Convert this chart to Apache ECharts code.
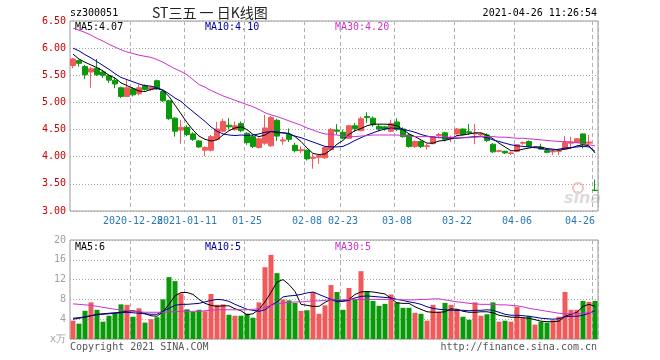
<!DOCTYPE html>
<html><head><meta charset="utf-8">
<script src="https://cdn.jsdelivr.net/npm/echarts@6/dist/echarts.min.js"></script>
<style>html,body{margin:0;padding:0;background:#fff}#c{width:660px;height:360px}</style>
</head><body><div id="c"></div>
<script>
const dates = [
'2020-12-14','2020-12-15','2020-12-16','2020-12-17','2020-12-18','2020-12-21','2020-12-22','2020-12-23','2020-12-24','2020-12-25',
'2020-12-28','2020-12-29','2020-12-30','2020-12-31','2021-01-04','2021-01-05','2021-01-06','2021-01-07','2021-01-08','2021-01-11',
'2021-01-12','2021-01-13','2021-01-14','2021-01-15','2021-01-18','2021-01-19','2021-01-20','2021-01-21','2021-01-22','2021-01-25',
'2021-01-26','2021-01-27','2021-01-28','2021-01-29','2021-02-01','2021-02-02','2021-02-03','2021-02-04','2021-02-05','2021-02-08',
'2021-02-09','2021-02-10','2021-02-18','2021-02-19','2021-02-22','2021-02-23','2021-02-24','2021-02-25','2021-02-26','2021-03-01',
'2021-03-02','2021-03-03','2021-03-04','2021-03-05','2021-03-08','2021-03-09','2021-03-10','2021-03-11','2021-03-12','2021-03-15',
'2021-03-16','2021-03-17','2021-03-18','2021-03-19','2021-03-22','2021-03-23','2021-03-24','2021-03-25','2021-03-26','2021-03-29',
'2021-03-30','2021-03-31','2021-04-01','2021-04-02','2021-04-06','2021-04-07','2021-04-08','2021-04-09','2021-04-12','2021-04-13',
'2021-04-14','2021-04-15','2021-04-16','2021-04-19','2021-04-20','2021-04-21','2021-04-22','2021-04-26'];

const opens = [5.68,5.77,5.66,5.56,5.63,5.56,5.49,5.41,5.27,5.11, 5.25,5.16,5.31,5.24,5.40,5.20,5.03,4.71,4.49,4.54,
4.42,4.29,4.12,4.12,4.32,4.47,4.58,4.50,4.61,4.43, 4.37,4.17,4.25,4.20,4.67,4.29,4.41,4.21,4.11,4.12,
3.97,3.99,3.98,4.13,4.49,4.45,4.34,4.57,4.48,4.74, 4.71,4.56,4.55,4.47,4.64,4.51,4.40,4.19,4.28,4.19,
4.24,4.39,4.44,4.33,4.42,4.51,4.46,4.42,4.40,4.40, 4.23,4.10,4.10,4.06,4.10,4.25,4.28,4.17,4.17,4.11,
4.09,4.10,4.14,4.25,4.26,4.42,4.25,3.38];
const closes = [5.80,5.72,5.51,5.62,5.51,5.50,5.41,5.34,5.11,5.27, 5.14,5.27,5.24,5.28,5.25,5.03,4.70,4.47,4.54,4.41,
4.32,4.18,4.17,4.37,4.51,4.65,4.55,4.57,4.48,4.26, 4.19,4.33,4.53,4.72,4.38,4.31,4.32,4.11,4.13,3.96,
3.99,4.02,4.17,4.50,4.47,4.34,4.57,4.52,4.70,4.72, 4.59,4.51,4.51,4.61,4.50,4.37,4.19,4.28,4.19,4.20,
4.37,4.41,4.32,4.35,4.51,4.41,4.44,4.43,4.42,4.30, 4.09,4.11,4.07,4.07,4.22,4.26,4.19,4.18,4.14,4.08,
4.10,4.11,4.26,4.27,4.33,4.23,4.27,3.38];
const lows = [5.63,5.66,5.43,5.27,5.49,5.45,5.36,5.26,5.08,5.10, 5.11,5.13,5.22,5.21,5.23,5.01,4.68,4.37,4.24,4.38,
4.29,4.16,4.01,4.10,4.30,4.45,4.50,4.48,4.45,4.22, 4.16,4.15,4.22,4.18,4.29,4.22,4.27,4.08,4.07,3.93,
3.78,3.87,3.96,4.12,4.41,4.32,4.33,4.46,4.47,4.62, 4.55,4.47,4.48,4.45,4.47,4.35,4.17,4.16,4.16,4.13,
4.23,4.35,4.28,4.27,4.41,4.39,4.40,4.23,4.38,4.27, 4.07,4.08,4.05,4.03,4.09,4.22,4.18,4.15,4.13,4.07,
4.03,4.03,4.12,4.14,4.25,4.15,4.22,3.38];
const highs = [5.82,5.79,5.69,5.65,5.80,5.60,5.52,5.46,5.29,5.41, 5.28,5.33,5.33,5.30,5.42,5.22,5.05,4.73,4.68,4.58,
4.45,4.31,4.19,4.40,4.64,4.70,4.71,4.65,4.65,4.45, 4.40,4.35,4.77,4.75,4.70,4.36,4.52,4.26,4.19,4.13,
4.05,4.04,4.19,4.53,4.60,4.50,4.58,4.62,4.74,4.82, 4.74,4.60,4.57,4.68,4.71,4.54,4.42,4.30,4.30,4.24,
4.38,4.44,4.46,4.39,4.53,4.52,4.60,4.60,4.44,4.43, 4.25,4.13,4.11,4.10,4.23,4.28,4.30,4.20,4.24,4.12,
4.12,4.14,4.38,4.37,4.34,4.43,4.40,3.58];

const ma5 = [5.89,5.80,5.74,5.69,5.64,5.58,5.50,5.45,5.36,5.31, 5.26,5.21,5.20,5.24,5.26,5.22,5.11,4.95,4.79,4.63,
4.49,4.38,4.32,4.29,4.31,4.40,4.48,4.53,4.55,4.50, 4.41,4.37,4.40,4.47,4.44,4.44,4.43,4.37,4.28,4.16,
4.06,4.04,4.05,4.13,4.23,4.30,4.41,4.48,4.52,4.57, 4.60,4.60,4.60,4.59,4.57,4.50,4.42,4.37,4.31,4.25,
4.25,4.29,4.30,4.33,4.39,4.40,4.42,4.44,4.44,4.40, 4.33,4.25,4.18,4.11,4.11,4.14,4.16,4.18,4.18,4.15,
4.14,4.12,4.14,4.16,4.20,4.22,4.20,4.07];
const ma10 = [6.00,5.95,5.88,5.82,5.75,5.68,5.61,5.53,5.46,5.42, 5.38,5.34,5.31,5.30,5.27,5.23,5.16,5.08,5.02,4.92,
4.83,4.74,4.65,4.55,4.47,4.42,4.40,4.39,4.40,4.39, 4.40,4.42,4.45,4.46,4.46,4.44,4.42,4.38,4.35,4.31,
4.27,4.23,4.19,4.18,4.18,4.19,4.24,4.30,4.35,4.40, 4.44,4.48,4.51,4.53,4.52,4.50,4.48,4.45,4.41,4.38,
4.36,4.35,4.35,4.34,4.34,4.35,4.36,4.37,4.37,4.35, 4.31,4.28,4.25,4.22,4.20,4.19,4.18,4.17,4.15,4.13,
4.12,4.14,4.16,4.17,4.18,4.19,4.18,4.10];
const ma30 = [6.37,6.33,6.29,6.24,6.18,6.13,6.07,6.02,5.97,5.93, 5.90,5.87,5.85,5.83,5.79,5.74,5.68,5.62,5.57,5.51,
5.42,5.33,5.28,5.22,5.17,5.12,5.08,5.04,5.00,4.96, 4.92,4.87,4.81,4.77,4.74,4.70,4.66,4.62,4.58,4.53,
4.49,4.45,4.42,4.41,4.40,4.38,4.37,4.37,4.38,4.39, 4.40,4.40,4.40,4.40,4.40,4.39,4.38,4.37,4.37,4.37,
4.36,4.36,4.36,4.36,4.36,4.35,4.35,4.36,4.37,4.37, 4.37,4.36,4.36,4.35,4.34,4.34,4.33,4.32,4.31,4.30,
4.29,4.28,4.28,4.27,4.26,4.24,4.22,4.20];

const volumes = [3.7,3.1,5.7,7.4,5.9,3.5,4.7,5.2,7.0,6.9, 4.5,6.2,3.3,4.0,4.4,8.0,12.5,11.7,9.2,6.0,
5.5,5.9,5.6,9.1,6.9,7.0,4.9,4.7,4.7,5.1, 4.3,7.4,14.5,17.0,13.3,8.0,7.8,7.3,5.7,5.8,
9.5,5.1,6.8,10.9,9.5,5.9,10.3,8.0,13.7,9.6, 7.7,6.7,7.1,9.0,7.4,6.3,6.3,5.3,5.1,3.7,
6.9,5.5,7.3,6.9,6.0,4.5,3.9,7.4,4.7,5.0, 7.4,3.5,3.7,3.5,6.5,4.3,4.6,2.9,3.5,3.3,
3.8,4.5,9.5,5.9,5.9,7.7,7.5,7.7];
const vma5 = [4.0,4.2,4.4,4.7,5.0,5.1,5.2,5.3,5.4,5.6, 5.7,5.5,5.1,4.7,4.6,5.5,7.0,8.7,9.4,9.4,
9.0,8.0,7.2,6.8,6.6,6.7,6.7,6.1,5.7,4.9, 5.1,6.0,7.5,9.4,11.5,12.0,11.0,9.6,7.0,6.8,
6.6,6.6,7.4,8.0,7.8,7.7,8.0,9.0,9.5,9.6, 9.5,9.3,9.1,8.2,7.3,7.2,7.2,6.5,6.0,5.5,
5.4,5.4,5.5,6.1,6.0,5.6,5.4,5.4,5.5,5.5, 5.3,4.8,4.6,4.4,4.4,4.3,4.2,3.9,3.6,3.5,
3.5,3.6,4.6,5.0,5.4,6.6,7.0,6.6];
const vma10 = [4.2,4.3,4.5,4.7,4.9,5.0,5.1,5.2,5.3,5.4, 5.3,5.2,5.1,5.0,5.0,5.6,6.2,6.8,7.0,7.0,
7.1,7.2,7.5,7.8,8.0,7.9,7.6,7.0,6.5,6.0, 5.8,5.6,5.9,6.8,7.5,8.5,8.7,8.8,9.0,9.3,
9.5,9.0,8.5,8.0,7.5,7.6,7.8,8.3,8.6,8.7, 8.6,8.5,8.4,8.3,8.0,7.8,7.5,7.3,7.0,6.5,
6.2,6.0,5.9,5.8,5.8,5.8,5.7,5.8,5.8,5.9, 5.8,5.4,5.0,4.8,4.8,4.7,4.6,4.4,4.2,4.1,
4.0,4.1,4.5,4.6,4.6,4.8,5.2,5.7];
const vma30 = [7.1,7.0,6.9,6.8,6.6,6.4,6.2,6.0,5.9,5.7, 5.6,5.5,5.4,5.4,5.4,5.4,5.5,5.5,5.6,5.6,
5.6,5.6,5.7,5.8,5.9,5.9,5.9,5.9,5.9,5.9, 6.0,6.1,6.4,6.8,7.1,7.3,7.4,7.5,7.5,7.6,
7.7,7.7,7.8,7.9,7.9,7.9,8.0,8.0,8.0,8.0, 8.0,8.0,8.0,8.0,8.0,7.9,7.9,7.9,8.0,8.0,
8.1,8.1,7.9,7.7,7.5,7.4,7.2,7.1,7.0,7.0, 7.0,6.9,6.9,6.8,6.7,6.5,6.2,6.0,5.8,5.6,
5.4,5.2,5.1,5.1,5.1,5.2,5.3,5.4];

const tickDates = ['2020-12-28','2021-01-11','2021-01-25','2021-02-08','2021-02-23','2021-03-08','2021-03-22','2021-04-06','2021-04-26'];
const tickLabels = ['2020-12-28','2021-01-11','01-25','02-08','02-23','03-08','03-22','04-06','04-26'];
const priceLegend = ['MA5:4.07','MA10:4.10','MA30:4.20'];
const volLegend = ['MA5:6','MA10:5','MA30:5'];

const UP = '#f05a5a', DOWN = '#0a990a';
const C5 = '#000000', C10 = '#000099', C30 = '#cc33cc';
const MONO = 'DejaVu Sans Mono';

function sign(i){
  if (closes[i] > opens[i]) return 1;
  if (closes[i] < opens[i]) return -1;
  return i > 0 && closes[i-1] <= closes[i] ? 1 : -1;
}
const kData = dates.map((d,i)=>[opens[i],closes[i],lows[i],highs[i]]);
const vData = volumes.map((v,i)=>({value:v,itemStyle:{color: sign(i)>0?UP:DOWN}}));
const isTick = (i)=> tickDates.indexOf(dates[i]) >= 0;
const isTickRest = (i)=> tickDates.indexOf(dates[i]) >= 1;
const isTickFirst = (i)=> dates[i] === tickDates[0];
const fmt = (v)=>{const k=tickDates.indexOf(v); return k>=0?tickLabels[k]:'';};

const gridLineV = {show:true, interval:isTick, lineStyle:{color:'#b0b0b0', type:[4,3], width:1}};
const gridLineH = {show:true, lineStyle:{color:'#a8a8a8', type:[1,2], width:1}};
const dateLabel = {color:'#2a7ab8', fontFamily:MONO, fontSize:10, margin:5, hideOverlap:false, formatter:fmt};

const chart = echarts.init(document.getElementById('c'), null, {renderer:'canvas'});
chart.setOption({
  animation:false,
  backgroundColor:'#fff',
  grid:[
    {left:70, width:528, top:21, height:190, show:true, borderColor:'#999', borderWidth:1, backgroundColor:'transparent'},
    {left:70, width:528, top:240, height:99, show:true, borderColor:'#999', borderWidth:1, backgroundColor:'transparent'}
  ],
  xAxis:[
    {type:'category', data:dates, gridIndex:0, boundaryGap:true, position:'bottom',
     axisLine:{show:false}, axisTick:{show:false},
     axisLabel:Object.assign({show:true, interval:isTickRest, alignMaxLabel:'right'}, dateLabel),
     splitLine:gridLineV},
    {type:'category', data:dates, gridIndex:1, boundaryGap:true,
     axisLine:{show:false}, axisTick:{show:false}, axisLabel:{show:false},
     splitLine:gridLineV},
    {type:'category', data:dates, gridIndex:0, boundaryGap:true, position:'bottom', offset:0,
     axisLine:{show:false}, axisTick:{show:false}, splitLine:{show:false},
     axisLabel:Object.assign({show:true, interval:isTickFirst}, dateLabel)}
  ],
  yAxis:[
    {type:'value', gridIndex:0, min:3, max:6.5, interval:0.5, position:'left',
     axisLine:{show:false}, axisTick:{show:false},
     axisLabel:{color:'#cc0000', fontFamily:MONO, fontSize:10, margin:4, formatter:(v)=>v.toFixed(2)},
     splitLine:gridLineH},
    {type:'value', gridIndex:1, min:0, max:20, interval:4, position:'left',
     axisLine:{show:false}, axisTick:{show:false},
     axisLabel:{color:'#a0a0a0', fontFamily:MONO, fontSize:10, margin:4, formatter:(v)=> v===0?'x万':String(v)},
     splitLine:gridLineH}
  ],
  series:[
    {type:'candlestick', xAxisIndex:0, yAxisIndex:0, data:kData, barWidth:5,
     itemStyle:{color:UP, color0:DOWN, borderColor:UP, borderColor0:DOWN, borderWidth:1}},
    {type:'line', xAxisIndex:0, yAxisIndex:0, data:ma5, showSymbol:false, symbol:'none', lineStyle:{color:C5, width:1}},
    {type:'line', xAxisIndex:0, yAxisIndex:0, data:ma10, showSymbol:false, symbol:'none', lineStyle:{color:C10, width:1}},
    {type:'line', xAxisIndex:0, yAxisIndex:0, data:ma30, showSymbol:false, symbol:'none', lineStyle:{color:C30, width:1}},
    {type:'bar', xAxisIndex:1, yAxisIndex:1, data:vData, barWidth:5},
    {type:'line', xAxisIndex:1, yAxisIndex:1, data:vma5, showSymbol:false, symbol:'none', lineStyle:{color:C5, width:1}},
    {type:'line', xAxisIndex:1, yAxisIndex:1, data:vma10, showSymbol:false, symbol:'none', lineStyle:{color:C10, width:1}},
    {type:'line', xAxisIndex:1, yAxisIndex:1, data:vma30, showSymbol:false, symbol:'none', lineStyle:{color:C30, width:1}}
  ],
  graphic:[
    {type:'text', x:70, y:13, style:{text:'sz300051', fill:'#000', font:'10px '+MONO, verticalAlign:'middle', textVerticalAlign:'middle'}},
    {type:'text', x:152, y:13, style:{text:'ST三五 一 日K线图', fill:'#222', font:'14px "Noto Sans CJK SC"', verticalAlign:'middle', textVerticalAlign:'middle'}},
    {type:'text', x:597, y:13, style:{text:'2021-04-26 11:26:54', fill:'#000', font:'10px '+MONO, align:'right', textAlign:'right', verticalAlign:'middle', textVerticalAlign:'middle'}},
    {type:'text', x:75, y:27, style:{text:priceLegend[0], fill:C5, font:'10px '+MONO, verticalAlign:'middle', textVerticalAlign:'middle'}},
    {type:'text', x:205, y:27, style:{text:priceLegend[1], fill:C10, font:'10px '+MONO, verticalAlign:'middle', textVerticalAlign:'middle'}},
    {type:'text', x:335, y:27, style:{text:priceLegend[2], fill:C30, font:'10px '+MONO, verticalAlign:'middle', textVerticalAlign:'middle'}},
    {type:'text', x:75, y:247, style:{text:volLegend[0], fill:C5, font:'10px '+MONO, verticalAlign:'middle', textVerticalAlign:'middle'}},
    {type:'text', x:205, y:247, style:{text:volLegend[1], fill:C10, font:'10px '+MONO, verticalAlign:'middle', textVerticalAlign:'middle'}},
    {type:'text', x:335, y:247, style:{text:volLegend[2], fill:C30, font:'10px '+MONO, verticalAlign:'middle', textVerticalAlign:'middle'}},
    {type:'text', x:70, y:347, style:{text:'Copyright 2021 SINA.COM', fill:'#555', font:'10px '+MONO, verticalAlign:'middle', textVerticalAlign:'middle'}},
    {type:'text', x:597, y:347, style:{text:'http://finance.sina.com.cn', fill:'#555', font:'10px '+MONO, align:'right', textAlign:'right', verticalAlign:'middle', textVerticalAlign:'middle'}},
    {type:'circle', shape:{cx:578, cy:188, r:5}, style:{fill:'none', stroke:'#f2c0c0', lineWidth:2}, silent:true, z:-1},
    {type:'text', x:564, y:199, style:{text:'sina', fill:'#dcdcdc', font:'italic bold 16px "DejaVu Sans"', verticalAlign:'middle', textVerticalAlign:'middle'}, silent:true, z:-1}
  ]
});
</script></body></html>
